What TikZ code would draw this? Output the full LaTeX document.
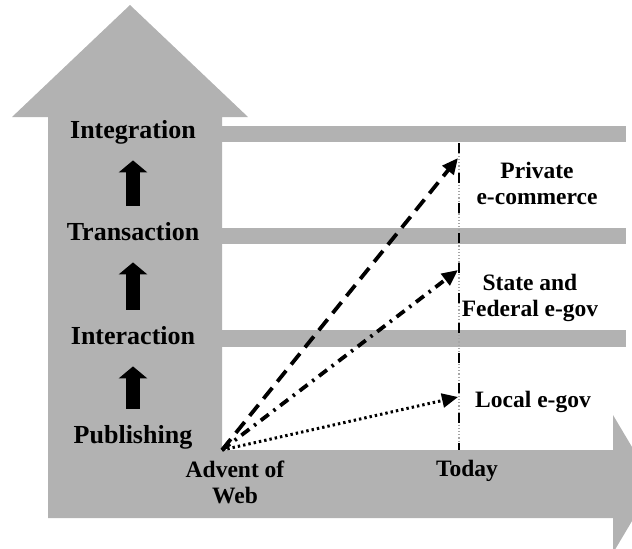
\documentclass[tikz,border=0pt]{standalone}
\usepackage{fontspec}
\setmainfont{Liberation Serif}
\usetikzlibrary{arrows.meta}
\definecolor{band}{RGB}{178,178,178}
\tikzset{
  stage/.style={
    font=\bfseries\fontsize{13}{15}\selectfont,
    inner sep=0pt, text height=9pt, text depth=3pt
  },
  tag/.style={
    font=\bfseries\fontsize{11.75}{13}\selectfont,
    align=center, inner sep=0pt
  },
  trend/.style={
    line width=1.9pt, line cap=butt,
    -{Triangle[length=8pt,width=7pt]}
  },
  stepup/.style={
    line width=7pt,
    -{Triangle[length=6pt,width=14pt]},
    shorten <=8pt, shorten >=8pt
  },
}

\begin{document}
\begin{tikzpicture}[x=0.5pt,y=-0.5pt]
\useasboundingbox (0,0) rectangle (632,548);
\clip (0,0) rectangle (632,548);
%\def\tx{460}
\def\tx{459}
% big arrows, up and right
\fill[band] (48,518) -- (48,117) -- (12,117) -- (130,5) -- (248,117)
  -- (222,117) -- (222,450) -- (613,450) -- (613,415) -- (654,484)
  -- (613,553) -- (613,518) -- cycle;
\foreach \top/\bot in {126/142,228/244,330/347}
  \fill[band] (222,\top) rectangle (626,\bot);
% today line
\draw[black!35, densely dotted, line width=0.6pt] (\tx,143) -- (\tx,450);
\draw[line width=0.9pt, dash pattern=on 5pt off 10pt] (\tx,143) -- (\tx,450);
% stages
\node[stage, anchor=base] (integ) at (133,138) {Integration};
\node[stage, anchor=base] (trans) at (133,240) {Transaction};
\node[stage, anchor=base] (inter) at (133,344) {Interaction};
\node[stage, anchor=base] (publ)  at (133,443) {Publishing};
\draw[stepup] (trans) -- (integ);
\draw[stepup] (inter) -- (trans);
\draw[stepup] (publ) -- (inter);
% trends
\coordinate (web)   at (222,450);
\coordinate (priv)  at (\tx-1,158);
\coordinate (state) at (\tx-1,270);
\coordinate (local) at (\tx-1,397);
\draw[trend, dash pattern=on 7pt off 4pt] (web) -- (priv);
\draw[trend, dash pattern=on 5pt off 3pt on 1.2pt off 3pt] (web) -- (state);
\draw[trend, line width=1.5pt, dash pattern=on 1.2pt off 1.5pt] (web) -- (local);
\node[tag] (privl)  at (537,183) {Private\\e-commerce};
\node[tag] (statel) at (530,298) {State and\\Federal e-gov};
\node[tag] (locall) at (533,402) {Local e-gov};
\node[tag] (now)    at (467,471) {Today};
\node[tag] (advent) at (235,482) {Advent of\\Web};
\end{tikzpicture}
\end{document}
